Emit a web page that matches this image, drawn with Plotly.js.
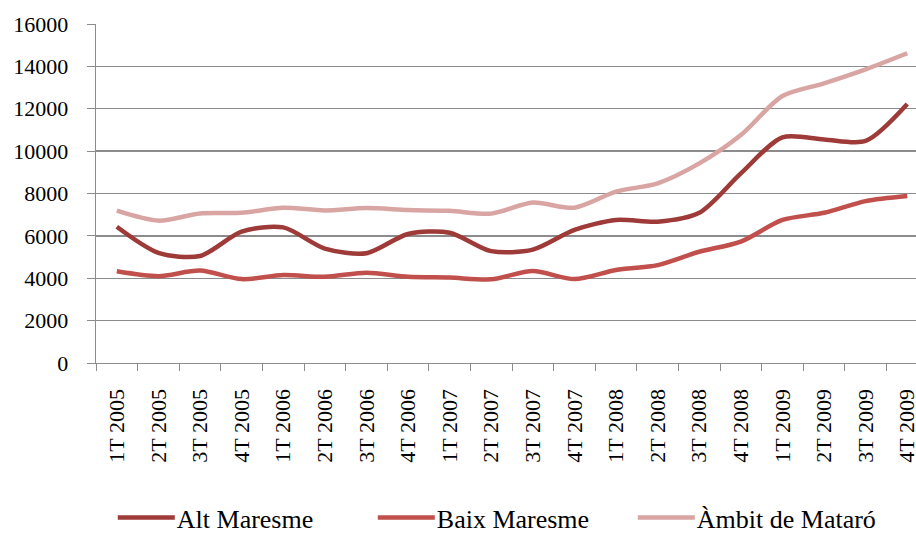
<!DOCTYPE html>
<html>
<head>
<meta charset="utf-8">
<script src="https://cdn.plot.ly/plotly-3.0.1.min.js"></script>
<style>html,body{margin:0;padding:0;background:#fff;}#chart{width:916px;height:541px;}</style>
</head>
<body>
<div id="chart"></div>
<script>
const categories = ["1T 2005","2T 2005","3T 2005","4T 2005","1T 2006","2T 2006","3T 2006","4T 2006","1T 2007","2T 2007","3T 2007","4T 2007","1T 2008","2T 2008","3T 2008","4T 2008","1T 2009","2T 2009","3T 2009","4T 2009"];
const altMaresme = [6430,5200,5050,6200,6400,5400,5180,6090,6150,5280,5350,6280,6750,6670,7090,8950,10650,10550,10480,12220];
const baixMaresme = [4330,4100,4360,3960,4150,4070,4260,4070,4030,3950,4340,3960,4390,4620,5250,5730,6750,7090,7640,7880];
const ambitMataro = [7190,6720,7060,7090,7330,7200,7310,7220,7180,7050,7570,7330,8090,8480,9420,10760,12600,13200,13860,14620];
const yTicks = [0,2000,4000,6000,8000,10000,12000,14000,16000];

const FONT_FAMILY = "Times New Roman";
function tr(name, y, color) {
  return {x: categories, y: y, name: name, type: 'scatter', mode: 'lines',
    line: {color: color, width: 4.5, shape: 'spline', smoothing: 0.8}, hoverinfo: 'x+y'};
}
const data = [
  tr('Alt Maresme', altMaresme, '#9E3A37'),
  tr('Baix Maresme', baixMaresme, '#C14F4B'),
  tr('Àmbit de Mataró', ambitMataro, '#D9A5A3')
];
const layout = {
  width: 916, height: 541,
  margin: {l: 96, r: 0, t: 24, b: 178, autoexpand: false},
  paper_bgcolor: '#fff', plot_bgcolor: '#fff',
  font: {family: FONT_FAMILY, size: 19, color: '#000'},
  showlegend: true,
  legend: {orientation: 'h', xref: 'container', yref: 'container', x: 0.1275, y: -0.012, xanchor: 'left', yanchor: 'bottom',
    entrywidth: 195, entrywidthmode: 'pixels', font: {family: FONT_FAMILY, size: 26, color: '#000'}, itemwidth: 50},
  xaxis: {type: 'category', range: [-0.5, 19.21], showgrid: false, showline: true, linecolor: '#8c8c8c', linewidth: 1.3,
    ticks: 'outside', tickson: 'boundaries', ticklen: 7, tickcolor: '#8c8c8c', tickangle: -90, automargin: false,
    ticklabelstandoff: 16, tickfont: {family: FONT_FAMILY, size: 22, color: '#000'}, zeroline: false, fixedrange: true},
  yaxis: {range: [0, 16000], tickvals: yTicks, ticktext: yTicks.map(String), showgrid: true, gridcolor: '#8c8c8c', gridwidth: 1.3,
    showline: true, linecolor: '#8c8c8c', linewidth: 1.3, ticks: 'outside', ticklen: 8, tickcolor: '#8c8c8c', automargin: false,
    ticklabelstandoff: 14, tickfont: {family: FONT_FAMILY, size: 22, color: '#000'}, zeroline: false, fixedrange: true}
};
Plotly.newPlot('chart', data, layout, {displayModeBar: false, staticPlot: true}).then(function () {
  document.querySelectorAll('.legend .legendlines path').forEach(function (p) {
    p.setAttribute('d', 'M1,0h57');
  });
});
</script>
</body>
</html>
